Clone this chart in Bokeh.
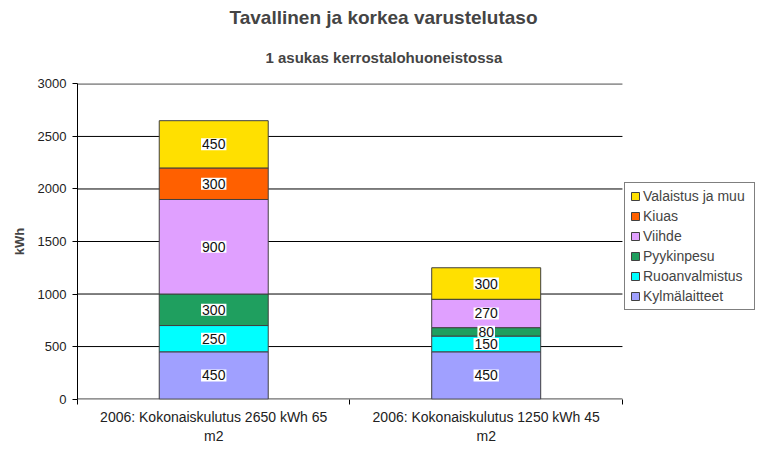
from bokeh.plotting import figure
from bokeh.models import (ColumnDataSource, FixedTicker, Legend, LegendItem,
                          Title, Range1d)
from bokeh.core.properties import value
from bokeh.embed import file_html
from bokeh.resources import INLINE

# ---- data ----
title_text = "Tavallinen ja korkea varustelutaso"
subtitle_text = "1 asukas kerrostalohuoneistossa"
categories = ["2006: Kokonaiskulutus 2650 kWh 65\nm2",
              "2006: Kokonaiskulutus 1250 kWh 45\nm2"]
series_names = ["Kylmälaitteet", "Ruoanvalmistus", "Pyykinpesu",
                "Viihde", "Kiuas", "Valaistus ja muu"]
kylmalaitteet = [450, 450]
ruoanvalmistus = [250, 150]
pyykinpesu = [300, 80]
viihde = [900, 270]
kiuas = [300, 0]
valaistus = [450, 300]
y_ticks = [0, 500, 1000, 1500, 2000, 2500, 3000]

series_values = [kylmalaitteet, ruoanvalmistus, pyykinpesu, viihde, kiuas, valaistus]
colors = ["#A0A0FF", "#00FFFF", "#1F9F5F", "#E0A0FF", "#FF6000", "#FFE000"]

FONT = "Liberation Sans"
ncat = len(categories)
xpos = [i + 0.5 for i in range(ncat)]

data = {"x": xpos}
for name, vals in zip(series_names, series_values):
    data[name] = vals
src = ColumnDataSource(data)

p = figure(width=756, height=446, output_backend="svg", toolbar_location=None,
           x_range=Range1d(0, ncat * 1.246), y_range=Range1d(-4, 3004),
           min_border_left=77, min_border_right=0, min_border_top=83,
           min_border_bottom=43, title=None)
p.outline_line_color = None
p.background_fill_color = "white"
p.border_fill_color = "white"

# horizontal grid lines only over the category area
gsrc = ColumnDataSource(dict(x0=[0] * len(y_ticks), x1=[ncat] * len(y_ticks),
                             y=y_ticks))
p.segment(x0="x0", y0="y", x1="x1", y1="y", source=gsrc,
          line_color="black", line_width=1)

renderers = p.vbar_stack(series_names, x="x", width=0.4, source=src,
                         fill_color=colors, line_color="#404040", line_width=1)

# value labels
lx, ly, lt = [], [], []
for i, x in enumerate(xpos):
    base = 0
    for vals in series_values:
        v = vals[i]
        if v > 0:
            lx.append(x)
            ly.append(base + v / 2)
            lt.append(str(v))
        base += v
lsrc = ColumnDataSource(dict(x=lx, y=ly, t=lt))
p.text(x="x", y="y", text="t", source=lsrc, text_align="center",
       text_baseline="middle", text_font=value(FONT), text_font_size="14px",
       text_color="#111111", background_fill_color="white", padding=1)

# axes
p.yaxis.ticker = FixedTicker(ticks=y_ticks)
p.yaxis.axis_label = "kWh"
p.yaxis.axis_label_text_font = FONT
p.yaxis.axis_label_text_font_size = "13px"
p.yaxis.axis_label_text_font_style = "bold"
p.yaxis.axis_label_standoff = 8
p.yaxis.major_label_text_font = FONT
p.yaxis.major_label_text_font_size = "13px"
p.yaxis.major_label_text_color = "#222222"
p.yaxis.major_label_standoff = 6
p.yaxis.major_tick_in = 0
p.yaxis.major_tick_out = 5
p.yaxis.minor_tick_line_color = None
p.yaxis.axis_line_color = "black"
p.yaxis.major_tick_line_color = "black"

p.xaxis.ticker = FixedTicker(ticks=xpos, minor_ticks=list(range(ncat + 1)))
p.xaxis.major_label_overrides = {x: c for x, c in zip(xpos, categories)}
p.xaxis.major_label_text_font = FONT
p.xaxis.major_label_text_font_size = "14px"
p.xaxis.major_label_text_color = "#222222"
p.xaxis.major_tick_in = 0
p.xaxis.major_tick_out = 0
p.xaxis.minor_tick_in = 0
p.xaxis.minor_tick_out = 5
p.xaxis.minor_tick_line_color = "black"
p.xaxis.axis_line_color = None
p.xaxis.major_label_standoff = 4

p.xgrid.grid_line_color = None
p.ygrid.grid_line_color = None

# legend (reverse order, top item is last series)
items = [LegendItem(label=n, renderers=[r]) for n, r in zip(series_names, renderers)][::-1]
legend = Legend(items=items, location=(547, 89), border_line_color="black",
                border_line_width=1, label_text_font=FONT, label_text_font_size="14px",
                glyph_width=10, glyph_height=10, label_height=16, label_width=106,
                spacing=4, padding=5, margin=0, label_standoff=3,
                background_fill_color="white", background_fill_alpha=1)
p.add_layout(legend, "center")

# titles
p.add_layout(Title(text=subtitle_text, align="left",
                   text_font=FONT, text_font_size="15px", text_font_style="bold",
                   offset=188, standoff=35), "above")
p.add_layout(Title(text=title_text, align="left",
                   text_font=FONT, text_font_size="19px", text_font_style="bold",
                   offset=152, standoff=4), "above")

open("out.html", "w").write(file_html(p, INLINE))
